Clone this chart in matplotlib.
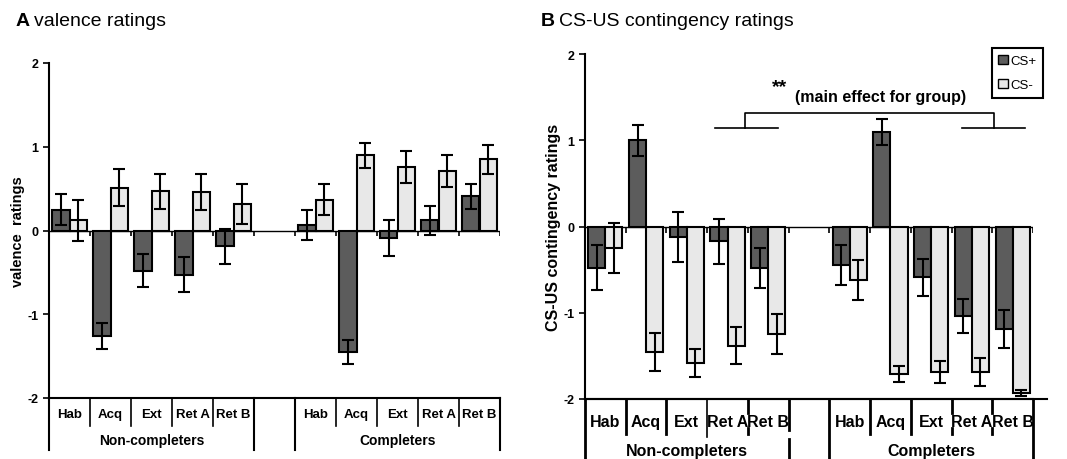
import numpy as np
import matplotlib.pyplot as plt
from matplotlib.patches import Patch

plt.rcParams['font.family'] = ['Liberation Sans', 'DejaVu Sans']

phases = ['Hab', 'Acq', 'Ext', 'Ret A', 'Ret B']
groups = ['Non-completers', 'Completers']

# valence ratings (panel A): non-completers then completers
val_csp = [0.25, -1.26, -0.48, -0.53, -0.19, 0.07, -1.45, -0.09, 0.12, 0.41]
val_csp_err = [0.19, 0.16, 0.20, 0.21, 0.21, 0.18, 0.14, 0.21, 0.17, 0.15]
val_csm = [0.12, 0.51, 0.47, 0.46, 0.32, 0.37, 0.90, 0.76, 0.71, 0.85]
val_csm_err = [0.24, 0.22, 0.21, 0.22, 0.24, 0.19, 0.15, 0.19, 0.19, 0.17]

# CS-US contingency ratings (panel B)
con_csp = [-0.48, 1.00, -0.12, -0.17, -0.48, -0.45, 1.10, -0.59, -1.04, -1.19]
con_csp_err = [0.26, 0.18, 0.29, 0.26, 0.23, 0.23, 0.15, 0.21, 0.20, 0.22]
con_csm = [-0.25, -1.45, -1.58, -1.38, -1.25, -0.62, -1.71, -1.69, -1.69, -1.93]
con_csm_err = [0.29, 0.22, 0.16, 0.21, 0.23, 0.23, 0.09, 0.13, 0.16, 0.03]

dark = '#5c5c5c'
light = '#e8e8e8'

fig = plt.figure(figsize=(10.67, 4.6), dpi=100)
axA = fig.add_axes([49/1067, 1-399/460, 451/1067, 335/460])
axB = fig.add_axes([585/1067, 1-400/460, 448/1067, 345/460])

# slot index for each bar pair (gap slot between the groups)
slots = np.array([0, 1, 2, 3, 4, 6, 7, 8, 9, 10]) + 0.5
w = 0.42


def draw_panel(ax, csp, csp_err, csm, csm_err, ylabel, ylab_size, lab_size, grp_size,
               lab_y, grp_y):
    ax.bar(slots - w/2, csp, w, color=dark, edgecolor='black', linewidth=1.5, zorder=2)
    ax.bar(slots + w/2, csm, w, color=light, edgecolor='black', linewidth=1.5, zorder=2)
    ax.errorbar(slots - w/2, csp, yerr=csp_err, fmt='none', ecolor='black',
                elinewidth=1.5, capsize=4, capthick=1.5, zorder=3)
    ax.errorbar(slots + w/2, csm, yerr=csm_err, fmt='none', ecolor='black',
                elinewidth=1.5, capsize=4, capthick=1.5, zorder=3)
    ax.axhline(0, color='black', linewidth=1, zorder=1)
    ax.vlines(np.arange(12), -0.07, 0, color='black', linewidth=1.2)
    ax.set_xlim(0, 11)
    ax.set_ylim(-2, 2)
    ax.set_yticks([-2, -1, 0, 1, 2])
    ax.set_yticklabels(['-2', '-1', '0', '1', '2'], fontweight='bold', fontsize=9)
    ax.set_xticks([])
    ax.tick_params(axis='y', direction='out', length=4, width=1.2)
    for s in ['top', 'right']:
        ax.spines[s].set_visible(False)
    ax.spines['left'].set_linewidth(1.5)
    ax.spines['bottom'].set_linewidth(1.5)
    ax.set_ylabel(ylabel, fontweight='bold', fontsize=ylab_size, labelpad=2)

    tr = ax.get_xaxis_transform()
    for k, x in enumerate(slots):
        ax.text(x, lab_y, phases[k % 5], transform=tr, ha='center', va='center',
                fontweight='bold', fontsize=lab_size)
    ax.text(2.5, grp_y, groups[0], transform=tr, ha='center', va='center',
            fontweight='bold', fontsize=grp_size)
    ax.text(8.5, grp_y, groups[1], transform=tr, ha='center', va='center',
            fontweight='bold', fontsize=grp_size)


draw_panel(axA, val_csp, val_csp_err, val_csm, val_csm_err, 'valence  ratings',
           10.5, 9.5, 10, -0.048, -0.126)
draw_panel(axB, con_csp, con_csp_err, con_csm, con_csm_err, 'CS-US contingency ratings',
           11.5, 11.5, 11.5, -0.064, -0.15)

# category separators, panel A
trA = axA.get_xaxis_transform()
for x in [1, 2, 3, 4, 7, 8, 9, 10]:
    axA.plot([x, x], [0, -0.084], transform=trA, color='black', linewidth=1.2, clip_on=False)
for x in [0, 5, 6, 11]:
    axA.plot([x, x], [0, -0.155], transform=trA, color='black', linewidth=1.5, clip_on=False)

# category separators, panel B (some drawn broken like the original)
trB = axB.get_xaxis_transform()
for x in [1, 2, 7, 8]:
    axB.plot([x, x], [0, -0.10], transform=trB, color='black', linewidth=2, clip_on=False)
axB.plot([3, 3], [0, -0.11], transform=trB, color='black', linewidth=1.2, clip_on=False)
for x in [4, 9, 10]:
    axB.plot([x, x], [0, -0.04], transform=trB, color='black', linewidth=2, clip_on=False)
    axB.plot([x, x], [-0.085, -0.10], transform=trB, color='black', linewidth=2, clip_on=False)
for x in [0, 6, 11]:
    axB.plot([x, x], [0, -0.18], transform=trB, color='black', linewidth=2, clip_on=False)
axB.plot([5, 5], [0, -0.09], transform=trB, color='black', linewidth=2, clip_on=False)
axB.plot([5, 5], [-0.115, -0.18], transform=trB, color='black', linewidth=2, clip_on=False)
axB.plot([0, 11.35], [-2, -2], color='black', linewidth=1.5, clip_on=False)

# significance bracket
axB.plot([3.2, 4.75], [1.14, 1.14], color='black', linewidth=1.2)
axB.plot([9.25, 10.8], [1.14, 1.14], color='black', linewidth=1.2)
axB.plot([3.92, 3.92, 10.05, 10.05], [1.14, 1.32, 1.32, 1.14], color='black', linewidth=1.2)
axB.text(4.6, 1.62, '**', ha='left', va='center', fontweight='bold', fontsize=14)
axB.text(5.15, 1.51, '(main effect for group)', ha='left', va='center',
         fontweight='bold', fontsize=11.5)

handles = [Patch(facecolor=dark, edgecolor='black', label='CS+'),
           Patch(facecolor=light, edgecolor='black', label='CS-')]
leg = fig.legend(handles=handles, loc='upper right', bbox_to_anchor=(1043/1067, 1-49/460),
                 bbox_transform=fig.transFigure, fancybox=False, framealpha=1,
                 edgecolor='black', fontsize=9.5, handlelength=0.7, handleheight=0.7,
                 handletextpad=0.2, labelspacing=0.9, borderpad=0.5, borderaxespad=0)
leg.get_frame().set_linewidth(1.5)

fig.text(16/1067, 1-22/460, 'A', fontweight='bold', fontsize=14, va='center', ha='left')
fig.text(34/1067, 1-22/460, 'valence ratings', fontsize=14, va='center', ha='left')
fig.text(541/1067, 1-22/460, 'B', fontweight='bold', fontsize=14, va='center', ha='left')
fig.text(559/1067, 1-22/460, 'CS-US contingency ratings', fontsize=14, va='center', ha='left')

fig.savefig('out.png', dpi=100)
